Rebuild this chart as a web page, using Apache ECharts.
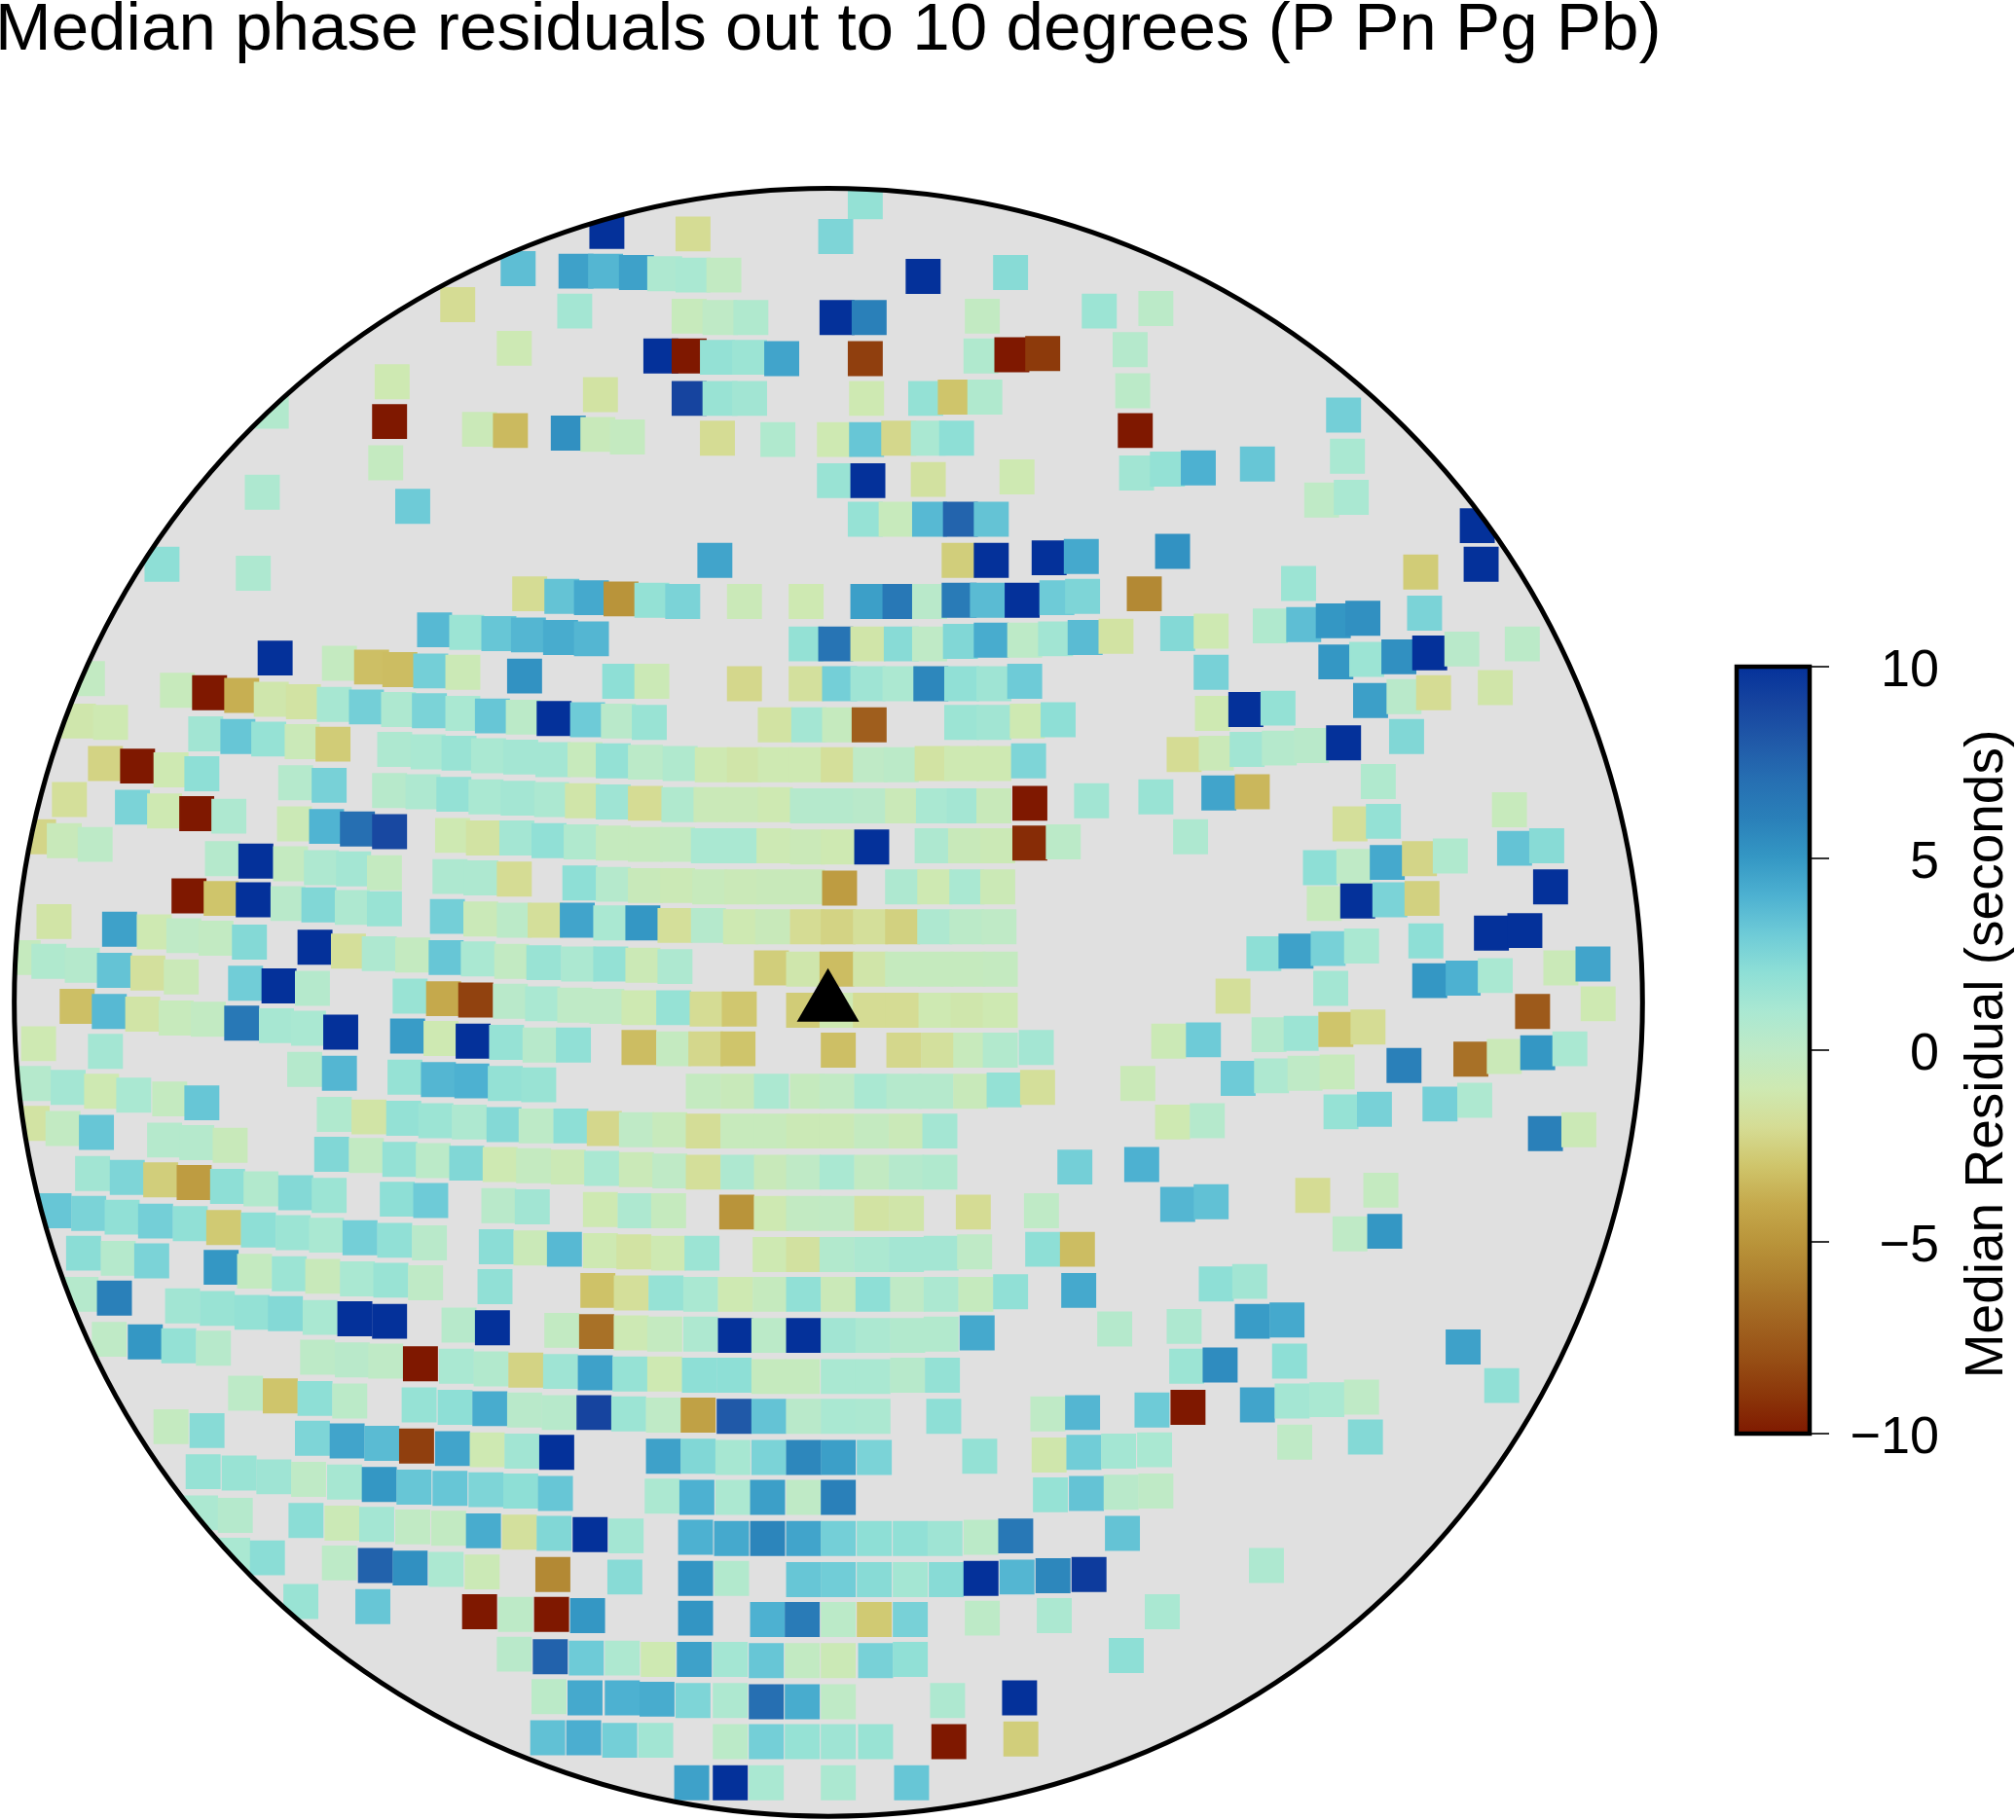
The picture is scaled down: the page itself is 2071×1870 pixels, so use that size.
<!DOCTYPE html>
<html><head><meta charset="utf-8">
<style>html,body{margin:0;padding:0;background:#fff}#c{width:2071px;height:1870px}</style>
<script src="https://cdn.jsdelivr.net/npm/echarts@6/dist/echarts.min.js"></script>
</head><body><div id="c"></div>
<script>
const bandA=[[673,157,1.8],[472,180,10],[539,182,-2],[650,184,2.5],[403,209,3.5],[448,211,4.6],[471,211,3.8],[495,212,4.6],[517,213,0.8],[539,214,1],[563,214,-0.2],[718,215,10],[786,212,2.2],
[356,237,-2],[447,242,1.2],[536,246,-0.5],[560,247,0],[584,247,0.7],[651,247,10],[676,247,6],[764,246,-0.2],[855,242,1.5],[899,240,0.2],
[400,271,-0.9],[514,277,10],[536,277,-10],[558,278,1.8],[583,278,1.5],[608,279,4.5],[673,279,-8.6],[763,277,0.7],[787,276,-10],[811,275,-8.8],[879,272,0.5],
[305,297,-1],[467,307,-1.5],[536,310,9],[560,310,1.6],[583,310,1.3],[674,310,-1],[720,310,1.8],[743,309,-3],[766,309,0.7],[881,304,0.2],
[211,320,0.6],[303,328,-10],[373,334,-0.7],[397,335,-3.4],[442,337,5.3],[465,338,-0.6],[488,340,-0.3],[558,341,-2],[605,342,0.7],[649,342,-1],[674,342,3.2],[699,341,-2.2],[722,341,1],[744,341,2],[883,335,-10],[1045,323,2.8]];
const bandB=[[300,360,-0.3],[649,374,1.6],[675,374,10],[722,373,-1.6],[791,371,-1],[1048,355,1],[884,368,1.3],[908,365,1.8],[932,364,4],[978,361,3.2],
[204,383,0.8],[321,394,3],[1028,389,0],[1051,387,1],[673,404,1.7],[697,404,-0.5],[723,404,3.7],[747,404,7.5],[771,404,3.3],[1149,409,10],
[126,439,2],[197,446,0.8],[556,436,4.5],[746,436,-2.6],[771,436,10],[816,434,10],[841,433,4.3],[912,429,5.2],[1152,439,10],[1105,445,-2.7],[1010,454,1.5],
[412,462,-2],[437,464,3.3],[460,465,4.3],[483,466,-5],[507,467,1.8],[531,468,2.6],[579,468,-0.7],[627,468,-1],[675,468,4.7],[700,468,6.5],[723,468,0.3],[746,467,6.3],[768,467,3.6],[795,467,10],[822,465,3],[842,464,2.5],[890,462,-5.5],[1108,477,2.6]];
const bandC=[[338,490,3.7],[363,492,1.5],[388,493,3.2],[411,494,3.8],[436,496,4.2],[460,497,3.8],[627,501,1.8],[650,501,6.7],[675,501,-1.3],[701,501,2.2],[723,501,0],[747,499,2.4],[771,498,4.2],[797,498,0.1],[821,497,1.3],[844,496,3.6],[868,495,-1.5],[916,493,2.3],[942,491,-1],[988,487,0.7],[1014,486,3.5],[1037,483,5],[1060,481,5.3],
[1039,515,5],[1063,513,1.5],[1088,511,5.3],[1112,508,10],[1137,505,0.3],[1184,501,0.2],[214,512,10],[264,516,-0.3],[289,519,-3.2],[311,521,-3.3],[335,522,2.8],[360,523,-0.8],[408,526,5.2],[482,530,2],[507,530,-0.8],[579,532,-2.2],[627,532,-1.7],[653,532,2.8],[675,532,1.4],[700,532,0.9],[724,532,5.7],[748,532,1.9],[773,532,1.4],[797,530,3],[68,528,-0.2],[942,523,2.7],
[138,537,-0.5],[163,539,-10],[188,541,-3.8],[211,544,-1.2],[236,546,-1.5],[260,548,1.1],[285,550,2.8],[310,552,0.8],[334,553,2.6],[360,555,1],[383,557,3.2],[407,558,0.2],[431,559,10],[457,560,3],[481,561,0.3],[505,562,1.6],[1066,545,4.7],[1092,542,0.3],[1115,539,-2],[1163,535,-1.3],[943,555,-1],[969,552,10],[994,551,1.8],
[61,561,-1.2],[86,562,-1],[603,564,-1.5],[629,564,1.2],[653,564,-0.4],[676,564,-7.3],[748,562,1.5],[773,562,1.3],[799,561,-1],[823,560,2]];
const bandD=[[160,571,1.3],[185,573,3.2],[209,575,1.7],[235,577,-0.7],[259,579,-2.7],[921,587,-2],[946,586,-0.7],[970,583,1.3],[995,582,0.5],[1020,580,0.3],[1045,578,10],[1094,573,2.4],
[307,583,0.8],[333,585,1],[357,586,1.6],[380,588,1],[405,589,1.2],[430,591,1.2],[455,591,-0.5],[477,592,1.8],[502,593,0.2],[529,594,0.7],[554,595,-1],[579,595,-1.3],[603,595,-1],[627,595,-1],[652,595,-1.8],[677,595,0],[701,595,0.2],[725,594,-1.5],[748,594,-1],[773,594,-1],[800,592,2.5],
[82,594,-2.4],[107,596,-10],[133,599,-1],[157,602,2],[230,609,0.5],[256,611,2.7],[1072,608,0.7],[54,622,-1.8],[103,628,2.6],[128,631,-1],[153,633,-10],[178,635,0.8],
[303,615,0.4],[329,616,0.8],[353,618,1.8],[378,620,1],[403,621,1.2],[429,622,0.9],[453,623,-1.3],[477,624,1.4],[502,625,-2],[528,626,0.7],[553,626,-0.7],[578,626,-0.7],[603,626,-1],[628,627,0.5],[653,627,0.5],[677,627,0.3],[702,627,-0.7],[726,627,1],[750,627,1.2],[773,627,-0.6],[801,625,-10],[849,623,1.3],[899,620,1.6],[948,617,4.5],[974,616,-3.5],[1174,630,-0.5],
[229,641,-0.8],[254,643,3.9],[278,645,7],[303,647,8.8],[30,651,-2.3],[50,654,-0.6],[74,657,0.1],[926,651,0.8],[1050,641,-1.8],[1076,639,1.8]];
const bandE=[[352,650,-1],[376,652,-1.5],[402,652,1.2],[427,654,1.9],[452,655,0.7],[477,656,-0.4],[502,657,-0.4],[527,657,-0.3],[551,658,1],[577,658,1],[602,658,-0.9],[628,659,-0.7],[652,659,-1],[678,659,10],[725,658,0.8],[751,658,-0.6],[776,658,-0.8],[801,656,-9.3],[827,655,0.2],[1178,660,3.3],[1203,658,2.2],
[173,668,0.5],[199,670,10],[226,672,-0.3],[250,675,0.8],[275,676,1.2],[299,679,-0.3],[1027,675,2],[1053,674,0],[1079,671,4.3],[1104,668,-2.3],[1128,666,0.7],[1206,690,10],
[350,682,0.8],[374,683,0.8],[400,684,-2],[451,687,2],[477,688,0.5],[502,689,-0.6],[527,689,-0.8],[552,690,-0.5],[577,690,-0.7],[602,690,-0.6],[628,690,-0.6],[653,691,-4.6],[702,690,0.8],[727,690,-1],[752,690,1],[776,690,-0.8],
[147,697,-10],[172,699,-3],[197,700,10],[224,703,0.3],[248,704,2.4],[274,706,0.8],[299,707,1.6],[1030,703,-0.5],[1056,701,10],[1081,700,2.6],[1106,699,-2.5],
[348,713,2.8],[374,715,-0.7],[400,716,0.2],[424,716,-1.8],[449,716,4.5],[475,718,1],[500,718,5],[525,720,-1.8],[551,720,0.5],[576,721,-1],[601,721,-0.6],[628,721,-2],[652,721,-2.4],[677,721,-1.8],[702,721,-2.5],[727,721,0.8],[752,721,0.2],[777,721,0],
[42,717,-1.4],[93,723,4.6],[120,725,-1],[143,728,0],[168,730,-0.2],[194,733,2.3],[1109,732,2],[1160,726,10],[1186,724,10]];
const bandF=[[245,737,10],[271,740,-1.8],[295,742,0.8],[321,743,-0.3],[347,745,3.2],[372,746,1],[398,748,-0.2],[423,749,1.6],[450,750,0.9],[475,750,1.8],[500,751,-0.8],[525,752,0.8],[600,753,-2.6],[625,754,-1.2],[651,754,-3.3],[677,754,-1.3],[702,754,-0.4],[728,754,-0.4],[753,754,-0.4],[778,754,-0.3],[983,742,2],[1008,740,4.6],[1033,738,2.7],[1059,736,1],
[18,745,-0.4],[38,748,0.7],[64,751,0.5],[89,755,3.3],[115,757,-1.7],[141,760,-0.7],[1112,763,5],[1138,761,4],[1163,759,1],[1214,753,-0.7],[1239,750,4.5],
[191,765,2.9],[217,767,10],[243,769,0.5],[1035,769,1.2],[959,775,-1.8],
[319,775,1.6],[345,777,-4],[370,778,-8.5],[397,779,0.3],[422,781,1],[447,782,0],[472,783,0],[497,784,-1],[524,784,1.7],[550,785,-2],[575,785,-2.9],[625,786,-2.7],[651,786,-1],[677,786,-2],[702,786,-2],[728,786,-1],[753,786,-1.2],[778,786,-1],[1192,787,-7.5],[1243,781,-1],
[60,783,-3.2],[85,787,3.7],[111,789,-1.4],[137,792,-0.5],[162,793,-0.2],[188,796,6.5],[215,798,1.1],[240,800,1],[265,803,10]];
const bandG=[[30,812,-1],[82,818,1.2],[317,806,4.8],[343,808,-1],[368,810,10],[394,811,1.7],[420,813,0.4],[446,813,1.9],[497,815,-3.3],[524,816,-0.3],[549,816,-2.2],[574,816,-3],[652,817,-3.2],[703,817,-2.2],[730,817,-1.7],[755,817,-0.5],[778,817,0.6],[806,815,1.2],[909,810,-0.8],[936,809,3],[987,805,0.5],[1012,804,1.5],[1039,801,-3],[1064,799,-2],
[237,832,0.5],[264,835,3.8],[315,838,1.7],[341,840,3.8],[367,841,4],[393,843,1.8],[419,844,1.6],[1144,824,-6.5],[1170,822,-0.7],[1196,819,5],[1221,816,1],[1092,829,6],[885,843,-0.7],[963,839,3],[989,837,0.8],[1015,835,0],[1040,834,-0.5],
[26,843,0.5],[53,846,1.2],[79,849,-1],[104,852,1],[132,855,-0.3],[157,858,3.2],[547,849,-0.3],[574,849,-0.6],[600,849,0.9],[628,849,-0.4],[651,849,-0.1],[678,849,1],[703,849,0.5],[728,849,0.5],[755,849,-0.6],[781,848,1.8],[807,846,-1.8],
[25,874,-1.5],[49,878,-0.2],[75,881,3.2],[128,887,0.5],[153,889,0.5],[179,891,-0.6],[912,873,-1],[939,872,0.5],[1043,865,1.7],[1069,863,2.7],[1120,859,2.8],[1147,856,0.8],[1202,882,6],[1228,879,-0.8],
[260,867,0.7],[287,869,-1.4],[314,870,1.8],[339,872,1.5],[365,873,0.8],[392,875,2.3],[417,876,0.1],[444,876,2],[470,878,-2.2],[495,879,0],[521,879,-0.5],[547,880,-1.9],[574,880,-0.5],[600,880,-0.5],[625,880,-0.8],[651,880,-0.8],[678,880,-0.3],[705,880,-0.7],[731,880,1.2]];
const bandH=[[258,898,2.4],[285,899,-0.2],[311,902,1.8],[337,903,0.2],[363,905,2.4],[389,906,-1],[415,907,-0.3],[442,908,-0.8],[468,909,1],[495,910,-0.7],[521,911,0],[547,912,-1.8],[574,912,0.8],[600,912,-0.6],[625,912,0],[651,912,1],[678,912,-0.2],[705,912,0.5],[731,912,0.7],[836,908,2.8],[888,906,4],
[72,913,1.3],[99,916,2.5],[125,918,-2.6],[151,920,-4.6],[177,923,2],[203,925,0.6],[230,928,2.3],[256,930,1.5],[916,937,3.8],[942,935,3.4],[1021,930,-2],[1074,926,-0.3],
[309,933,2],[335,934,3],[388,938,0.3],[414,939,1.3],[467,941,-1],[494,942,0.8],[520,942,-0.4],[573,943,-5],[600,944,-1],[625,944,-0.2],[651,944,-0.1],[678,944,-1.5],[705,944,-1.3],[757,943,-2],[810,942,0],
[42,942,3.2],[69,944,2.6],[95,947,1.9],[121,950,2.8],[148,952,1.9],[174,955,-2.8],[201,957,2],[228,959,1.5],[254,961,1],[280,963,2.8],[307,965,1.9],[334,967,0.3],[1050,960,0],[1077,958,5],
[386,970,2.1],[413,971,-0.7],[439,972,3.7],[467,973,-1],[493,974,-1.5],[520,975,-1],[546,975,1.5],[599,976,-1],[625,976,-1.6],[651,976,0.6],[678,976,0.9],[705,976,1.2],[732,975,1.2],[758,974,0],[811,972,2],[838,972,-3.3]];
const bandI=[[65,975,2.1],[92,979,0.5],[118,981,2.6],[172,986,5],[198,989,-0.3],[225,991,1.5],[251,993,-0.6],[278,995,1],[304,996,1.6],[331,998,0],[946,999,2],[972,997,1.3],
[385,1001,1.9],[465,1004,-3.1],[491,1006,-1.8],[518,1006,1.7],[545,1007,1],[572,1007,-1],[599,1007,-0.4],[625,1007,1.9],[652,1007,-0.7],[679,1007,2],[706,1007,0],[732,1007,0.9],[759,1007,-0.4],[786,1005,1.9],[839,1004,4.3],
[63,1007,0.5],[89,1010,6],[142,1016,1.3],[169,1018,1.6],[196,1021,1.8],[222,1022,2.3],[249,1025,1],[276,1026,10],[303,1028,10],[867,1034,0.5],[921,1032,0.8],[974,1028,4.8],[1001,1027,4.3],
[357,1031,0.4],[383,1033,10],[437,1035,-0.2],[464,1036,-6.5],[491,1037,-0.9],[517,1038,-0.3],[545,1038,0.8],[572,1039,10],[598,1039,0.2],[625,1039,10],[652,1039,1.3],[679,1039,0.9],[706,1039,0.6],[732,1038,0.6],[760,1037,4.3],[1138,1048,4.6],
[85,1042,0],[113,1044,5],[139,1047,1.8],[166,1049,0.4],[923,1063,1.5],[949,1062,5.5],[1003,1059,2],
[247,1056,0.1],[274,1058,0.3],[300,1059,0],[327,1061,-10],[355,1063,1],[382,1065,0.6],[409,1066,-2.4],[436,1067,1.4],[463,1068,4.6],[490,1069,1.7],[517,1069,-1],[544,1070,2],[571,1070,2],[598,1071,-0.4],[624,1071,-0.4],[652,1071,1],[679,1071,1],[706,1070,0.4],[733,1070,1.8],[1168,1078,1.9]];
const bandJ=[[191,1084,0.1],[218,1086,-3],[245,1088,2],[272,1090,0.2],[326,1093,1.7],[354,1095,2],[381,1096,4.2],[408,1097,0.3],[435,1099,0.4],[462,1099,9],[489,1100,1.5],[516,1101,0],[543,1101,-4.4],[571,1102,8],[598,1102,3.3],[625,1102,0.3],[652,1102,1],[679,1102,0.9],[734,1102,2],[815,1100,0],[842,1099,3.8],[896,1097,3],[924,1095,-10],[978,1093,4.5],[1005,1090,1.2],[1032,1089,1],[1059,1087,0],
[133,1110,-0.3],[161,1113,2.2],[243,1119,2.5],[270,1121,4.5],[297,1123,3.6],[324,1125,-8.6],[352,1127,4.5],[379,1128,-1],[406,1129,1.3],[433,1130,10],[516,1133,4.6],[543,1133,2.4],[570,1134,1.1],[598,1134,2.6],[625,1134,5.7],[652,1134,4.7],[680,1134,2.6],[762,1133,1.8],[816,1132,-1.2],[843,1130,2.9],[870,1129,1.2],[898,1128,1],[1007,1122,0],[1062,1118,2.3],
[158,1145,1.7],[186,1146,1.6],[213,1149,1.4],[240,1151,0],[268,1153,1.1],[295,1155,5],[322,1157,3.2],[350,1158,3.2],[378,1159,2.5],[405,1160,2],[432,1162,3.2],[515,1164,0.9],[542,1165,4],[570,1165,0.9],[597,1165,4.7],[625,1165,0],[652,1165,6],[817,1163,1.7],[845,1162,3.3],[872,1161,0.3],[899,1160,0]];
const bandK=[[156,1177,0.9],[183,1179,0.5],[238,1183,2.1],[266,1185,-0.8],[293,1186,1.2],[321,1188,-0.1],[349,1189,-0.2],[376,1191,4.2],[404,1192,-1.7],[431,1193,2.4],[459,1194,10],[487,1195,1.2],[541,1196,4],[569,1197,4.3],[597,1197,5.8],[625,1197,4.5],[652,1197,2.8],[680,1197,2],[708,1197,1.9],[735,1197,1.4],[763,1196,0.2],[790,1195,6.5],[873,1193,3.3],
[181,1210,1],[208,1212,2.1],[264,1216,0.1],[292,1218,7.6],[319,1220,5.3],[347,1221,0.9],[375,1223,-0.8],[430,1225,-5.5],[486,1227,2.2],[541,1228,5.1],[569,1228,0.6],[625,1229,3.2],[652,1229,2.9],[680,1229,2.2],[708,1229,1.2],[736,1229,2.2],[763,1228,10],[791,1227,3.8],[819,1226,5.7],[847,1225,9.5],[985,1218,0.8],
[234,1246,1.6],[290,1250,3.2],[373,1254,-10],[401,1256,0.1],[429,1256,-10],[457,1257,5],[541,1259,5.1],[597,1260,4],[624,1260,6.3],[652,1260,0.2],[680,1260,-2.8],[708,1260,2.7],[764,1259,0.1],[820,1257,0.9],[904,1254,1],
[400,1287,0.3],[428,1289,7.6],[456,1290,3],[484,1290,0.8],[512,1291,-1],[540,1291,4.6],[568,1291,1.2],[596,1292,3.2],[624,1292,-0.2],[652,1292,-0.8],[681,1292,2.7],[708,1291,1.9],[876,1288,2],
[427,1320,0.2],[455,1321,4.3],[484,1321,4],[511,1322,4.2],[539,1323,2.5],[568,1323,0.8],[596,1324,7],[624,1324,4.2],[652,1324,0],[737,1323,0.8],[793,1321,10],
[426,1352,3.4],[454,1352,4.1],[482,1354,2.8],[510,1354,1.3],[568,1355,0.2],[596,1355,2.8],[624,1355,1.7],[652,1355,1.4],[681,1355,1.6],[738,1355,-10],[794,1353,-2.6],
[538,1387,4.6],[568,1387,10],[596,1387,1],[652,1387,0.9],[709,1387,3.2]];
const bands=[bandA,bandB,bandC,bandD,bandE,bandF,bandG,bandH,bandI,bandJ,bandK];
const station=[644,774];
const diskCentre=[644.3,779.8];
const diskRadius=633.2;
const barTicks=[-10,-5,0,5,10];
const titleText='Median phase residuals out to 10 degrees (P Pn Pg Pb)';
const barName='Median Residual (seconds)';

const ramp=['#7f1800','#8b3509','#974f15','#a26521','#ad7d2d','#b9943a','#c5a94c','#cfc56b','#d5dc94','#cee9b2','#bfeac6','#aae8d2','#8edfd6','#6ecbd7','#4db1d1','#3497c4','#2a80b9','#266fb2','#2059a8','#16449f','#04319a'];
const cells=bands.flat();
const FONT='"Liberation Sans",Arial,sans-serif';
const chart=echarts.init(document.getElementById('c'),null,{renderer:'canvas'});

function diskClip(api){
  const c=api.coord(diskCentre), r=api.size([diskRadius,0])[0];
  return {cx:c[0],cy:c[1],r:r};
}
chart.setOption({
  animation:false,
  backgroundColor:'#fff',
  title:{text:titleText,left:-5,top:-3,padding:0,textStyle:{fontFamily:FONT,fontSize:69.2,fontWeight:'normal',color:'#000'}},
  grid:[{left:0,top:0,width:2071,height:1870,show:false,outerBoundsMode:'none'},
        {left:1784,top:685,width:75,height:788,show:false,outerBoundsMode:'none'}],
  xAxis:[{gridIndex:0,type:'value',min:0,max:1568,show:false},{gridIndex:1,type:'value',min:0,max:1,show:false}],
  yAxis:[{gridIndex:0,type:'value',min:0,max:1416,inverse:true,show:false},
    {gridIndex:1,type:'value',min:-10,max:10,interval:5,position:'right',show:false}],
  visualMap:[{show:false,type:'continuous',min:-10,max:10,dimension:2,seriesIndex:1,inRange:{color:ramp}}],
  series:[
    {type:'custom',xAxisIndex:0,yAxisIndex:0,z:1,silent:true,clip:false,data:[diskCentre],
     renderItem:(p,api)=>({type:'circle',shape:diskClip(api),style:{fill:'#e0e0e0',stroke:null}})},
    {type:'custom',xAxisIndex:0,yAxisIndex:0,z:2,silent:true,clip:false,encode:{x:0,y:1},
     dimensions:['x','y','v'],data:cells,
     renderItem:(p,api)=>{
       const c=api.coord([api.value(0),api.value(1)]);
       const s=api.size([27.2,27.2]);
       return {type:'rect',shape:{x:c[0]-s[0]/2,y:c[1]-s[1]/2,width:s[0],height:s[1]},
         clipPath:{type:'circle',shape:diskClip(api)},
         style:{fill:api.visual('color'),stroke:null}};
     }},
    {type:'custom',xAxisIndex:0,yAxisIndex:0,z:3,silent:true,clip:false,data:[diskCentre],
     renderItem:(p,api)=>({type:'circle',shape:diskClip(api),style:{fill:'none',stroke:'#000',lineWidth:5}})},
    {type:'scatter',xAxisIndex:0,yAxisIndex:0,z:4,silent:true,clip:false,symbol:'triangle',symbolSize:[64,55],
     itemStyle:{color:'#000',opacity:1},data:[station]},
    {type:'custom',xAxisIndex:1,yAxisIndex:1,z:5,silent:true,clip:false,data:[[0,-10]],
     renderItem:(p,api)=>{
       const a=api.coord([0,10]), b=api.coord([1,-10]);
       return {type:'rect',shape:{x:a[0],y:a[1],width:b[0]-a[0],height:b[1]-a[1]},
         style:{fill:new echarts.graphic.LinearGradient(0,1,0,0,ramp.map((c,i)=>({offset:i/(ramp.length-1),color:c}))),
                stroke:'#000',lineWidth:4.5}};
     }},
    {type:'custom',xAxisIndex:1,yAxisIndex:1,z:6,silent:true,clip:false,data:barTicks.map(v=>[1,v]),
     renderItem:(p,api)=>{
       const a=api.coord([api.value(0),api.value(1)]);
       return {type:'group',children:[
         {type:'line',shape:{x1:a[0],y1:a[1],x2:a[0]+20,y2:a[1]},style:{stroke:'#000',lineWidth:1.6}},
         {type:'text',x:a[0]+133,y:a[1]+5,style:{text:String(api.value(1)).replace('-','\u2212'),
           fontFamily:FONT,fontSize:54,fill:'#000',textAlign:'right',textVerticalAlign:'middle'}}
       ]};
     }},
    {type:'custom',xAxisIndex:1,yAxisIndex:1,z:6,silent:true,clip:false,data:[[1,0]],
     renderItem:(p,api)=>{
       const a=api.coord([1,0]);
       return {type:'text',x:a[0]+183,y:a[1]+4,rotation:Math.PI/2,
         style:{text:barName,fontFamily:FONT,fontSize:55,fill:'#000',textAlign:'center',textVerticalAlign:'middle'}};
     }}
  ]
});
</script></body></html>
